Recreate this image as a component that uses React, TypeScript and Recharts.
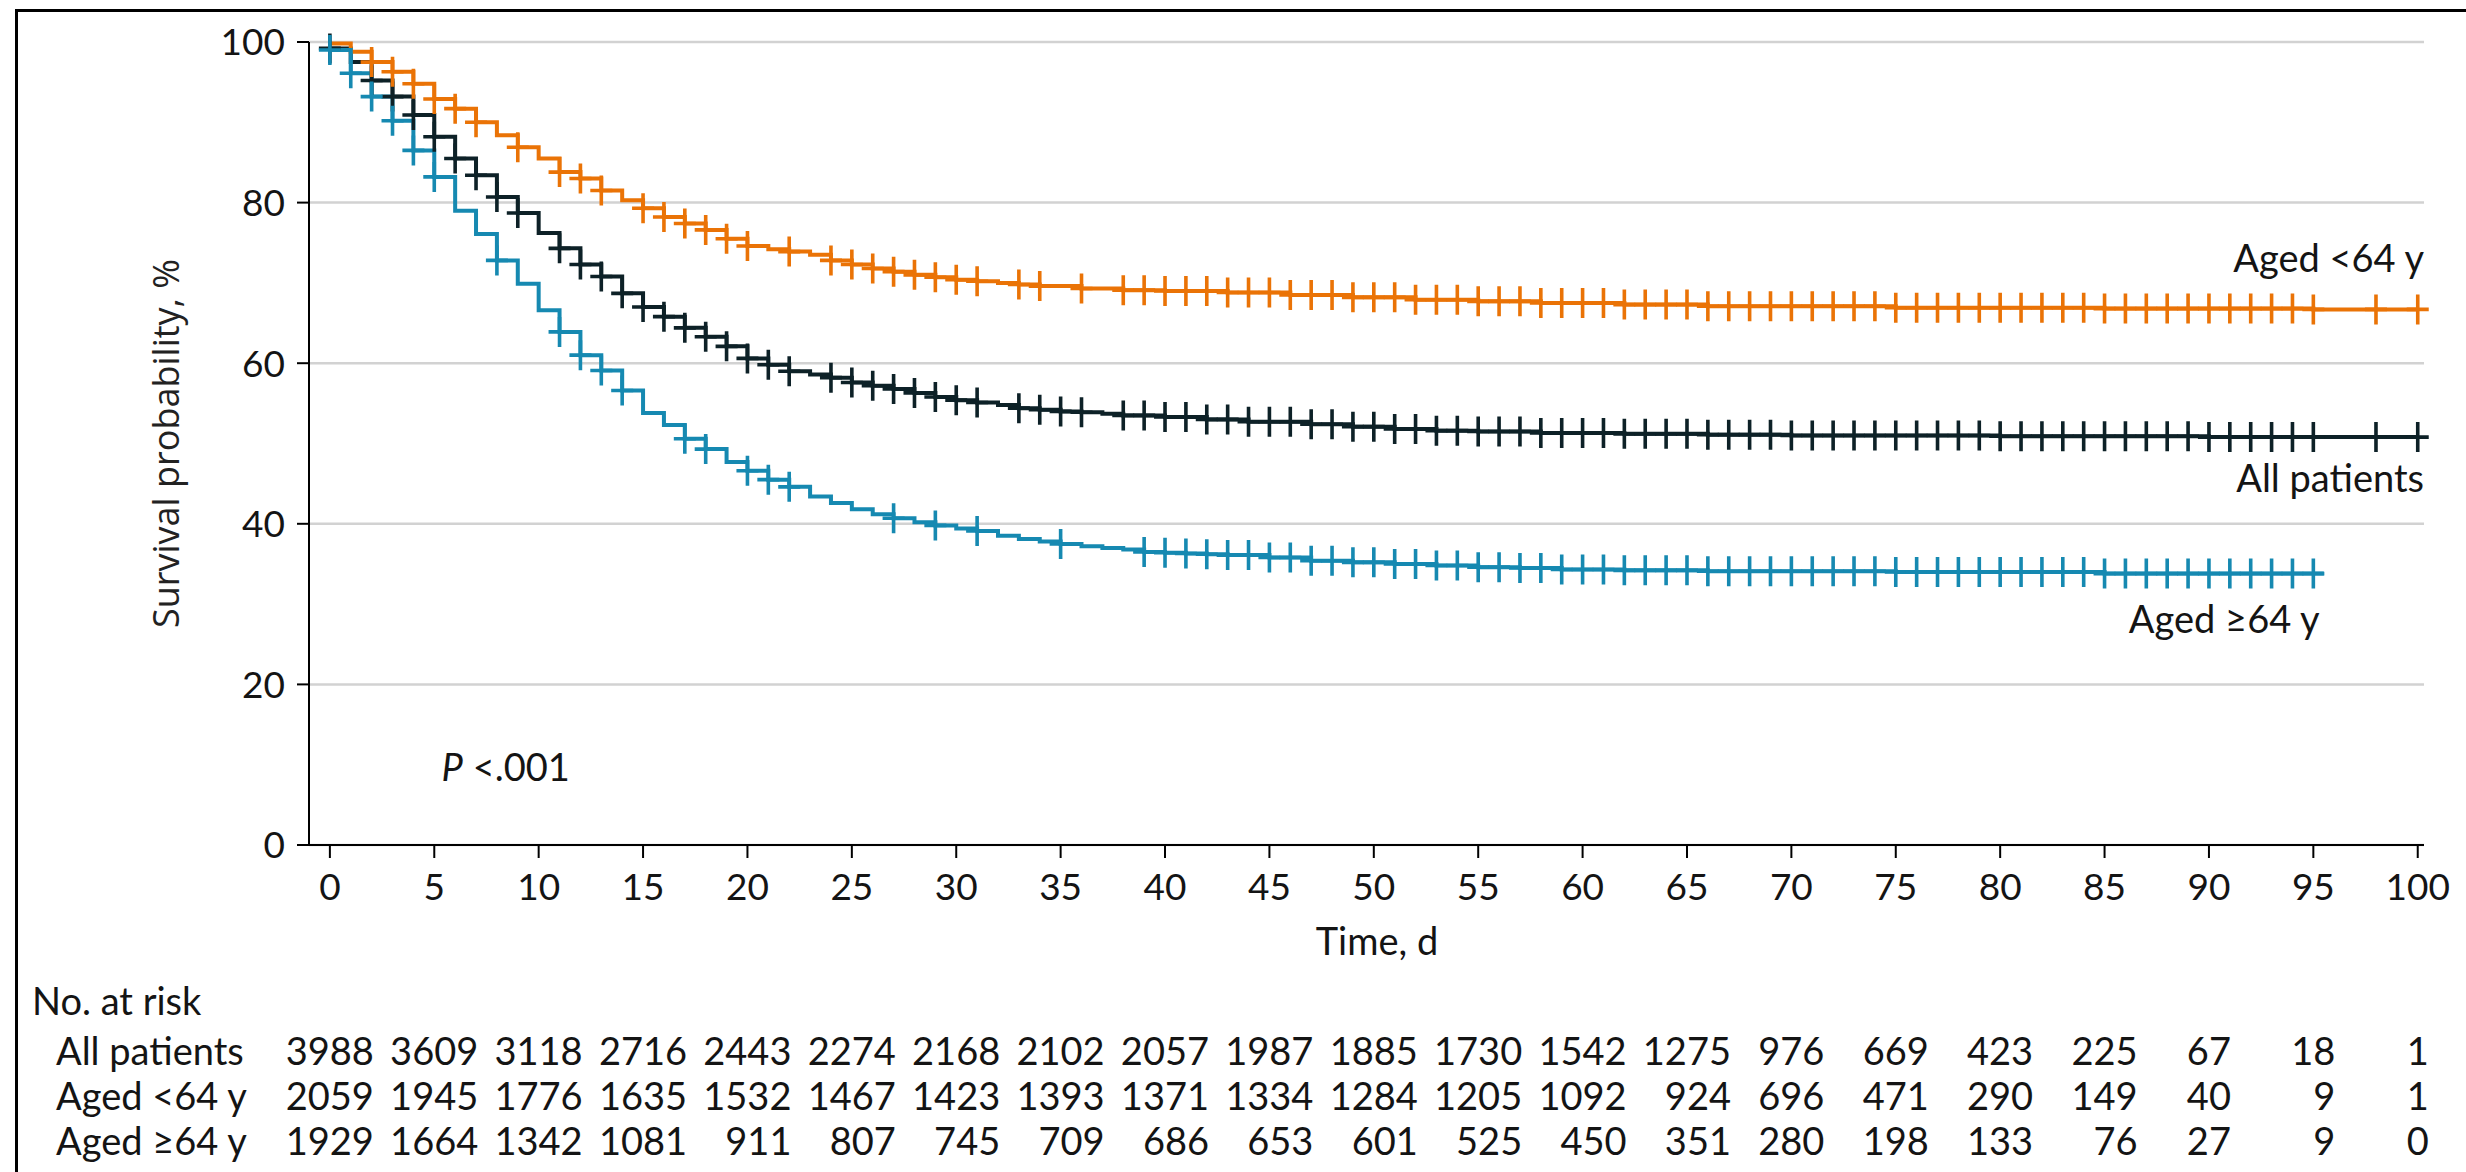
import React from "react";
import {
  ComposedChart,
  Line,
  Scatter,
  XAxis,
  YAxis,
  CartesianGrid,
} from "recharts";

const FONT = "Lato, 'Liberation Sans', sans-serif";
const INK = "#141414";
const TICK_LEN = 13;
const DIGIT_W = 22;

const xTicks = [0, 5, 10, 15, 20, 25, 30, 35, 40, 45, 50, 55, 60, 65, 70, 75, 80, 85, 90, 95, 100];
const yTicks = [0, 20, 40, 60, 80, 100];

// Kaplan-Meier steps (day, survival %)
const allDays = [
  0, 1, 2, 3, 4, 5, 6, 7, 8, 9, 10, 11, 12, 13, 14, 15, 16, 17, 18, 19, 20, 21, 22, 23, 24, 25,
  26, 27, 28, 29, 30, 31, 32, 33, 34, 35, 36, 37, 38, 40, 42, 44, 47, 49, 51, 53, 55, 58, 62, 66,
  70, 80, 90, 100,
];
const allSurv = [
  99.2, 97.5, 95.2, 93.2, 90.9, 88.2, 85.5, 83.4, 80.7, 78.7, 76.2, 74.3, 72.3, 70.8, 68.7, 67.0,
  65.8, 64.4, 63.3, 62.1, 60.6, 59.8, 59.0, 58.6, 58.2, 57.6, 57.2, 56.8, 56.3, 55.8, 55.4, 55.1,
  54.8, 54.4, 54.2, 54.0, 53.9, 53.7, 53.5, 53.3, 53.0, 52.7, 52.4, 52.1, 51.8, 51.6, 51.5, 51.3,
  51.2, 51.1, 51.0, 50.9, 50.8, 50.8,
];

const youngDays = [
  0, 1, 2, 3, 4, 5, 6, 7, 8, 9, 10, 11, 12, 13, 14, 15, 16, 17, 18, 19, 20, 21, 22, 23, 24, 25,
  26, 27, 28, 29, 30, 31, 32, 33, 34, 36, 38, 40, 43, 46, 49, 52, 55, 58, 62, 66, 75, 85, 95, 100,
];
const youngSurv = [
  99.8, 98.8, 97.5, 96.3, 94.8, 92.9, 91.7, 90.0, 88.4, 86.9, 85.5, 83.8, 83.0, 81.5, 80.3, 79.3,
  78.2, 77.4, 76.6, 75.5, 74.6, 74.2, 73.9, 73.5, 72.8, 72.3, 71.8, 71.4, 71.0, 70.7, 70.4, 70.2,
  70.0, 69.8, 69.6, 69.3, 69.1, 69.0, 68.8, 68.5, 68.2, 67.9, 67.7, 67.5, 67.3, 67.1, 66.9, 66.8,
  66.7, 66.7,
];

const oldDays = [
  0, 1, 2, 3, 4, 5, 6, 7, 8, 9, 10, 11, 12, 13, 14, 15, 16, 17, 18, 19, 20, 21, 22, 23, 24, 25,
  26, 27, 28, 29, 30, 31, 32, 33, 34, 35, 36, 37, 38, 39, 40, 41, 42, 43, 45, 47, 49, 51, 53, 55,
  57, 59, 62, 66, 75, 85, 95, 95.5,
];
const oldSurv = [
  99.0, 96.1, 93.2, 90.2, 86.5, 83.2, 79.0, 76.1, 72.8, 69.9, 66.6, 63.9, 61.0, 59.1, 56.6, 53.8,
  52.3, 50.6, 49.3, 47.7, 46.6, 45.5, 44.6, 43.4, 42.6, 41.8, 41.2, 40.7, 40.2, 39.8, 39.4, 39.1,
  38.5, 38.1, 37.8, 37.5, 37.2, 37.0, 36.8, 36.5, 36.4, 36.3, 36.2, 36.1, 35.8, 35.4, 35.2, 35.0,
  34.8, 34.6, 34.5, 34.3, 34.2, 34.1, 34.0, 33.8, 33.8, 33.8,
];

// censoring marks (days)
const allCensored = [
  0, 2, 3, 4, 5, 6, 7, 8, 9, 11, 12, 13, 14, 15, 16, 17, 18, 19, 20, 21, 22, 24, 25, 26, 27, 28,
  29, 30, 31, 33, 34, 35, 36, 38, 39, 40, 41, 42, 43, 44, 45, 46, 47, 48, 49, 50, 51, 52, 53, 54,
  55, 56, 57, 58, 59, 60, 61, 62, 63, 64, 65, 66, 67, 68, 69, 70, 71, 72, 73, 74, 75, 76, 77, 78,
  79, 80, 81, 82, 83, 84, 85, 86, 87, 88, 89, 90, 91, 92, 93, 94, 95, 98, 100,
];
const youngCensored = [
  2, 3, 4, 5, 6, 7, 9, 11, 12, 13, 15, 16, 17, 18, 19, 20, 22, 24, 25, 26, 27, 28, 29, 30, 31, 33,
  34, 36, 38, 39, 40, 41, 42, 43, 44, 45, 46, 47, 48, 49, 50, 51, 52, 53, 54, 55, 56, 57, 58, 59,
  60, 61, 62, 63, 64, 65, 66, 67, 68, 69, 70, 71, 72, 73, 74, 75, 76, 77, 78, 79, 80, 81, 82, 83,
  84, 85, 86, 87, 88, 89, 90, 91, 92, 93, 94, 95, 98, 100,
];
const oldCensored = [
  0, 1, 2, 3, 4, 5, 8, 11, 12, 13, 14, 17, 18, 20, 21, 22, 27, 29, 31, 35, 39, 40, 41, 42, 43, 44,
  45, 46, 47, 48, 49, 50, 51, 52, 53, 54, 55, 56, 57, 58, 59, 60, 61, 62, 63, 64, 65, 66, 67, 68,
  69, 70, 71, 72, 73, 74, 75, 76, 77, 78, 79, 80, 81, 82, 83, 84, 85, 86, 87, 88, 89, 90, 91, 92,
  93, 94, 95,
];

// number at risk, one value per x tick
const riskLabels = ["All patients", "Aged <64 y", "Aged \u226564 y"];
const riskAll = [3988, 3609, 3118, 2716, 2443, 2274, 2168, 2102, 2057, 1987, 1885, 1730, 1542, 1275, 976, 669, 423, 225, 67, 18, 1];
const riskYoung = [2059, 1945, 1776, 1635, 1532, 1467, 1423, 1393, 1371, 1334, 1284, 1205, 1092, 924, 696, 471, 290, 149, 40, 9, 1];
const riskOld = [1929, 1664, 1342, 1081, 911, 807, 745, 709, 686, 653, 601, 525, 450, 351, 280, 198, 133, 76, 27, 9, 0];
const riskTable = [riskAll, riskYoung, riskOld];

// in-plot text labels (day, survival %, anchor)
const noteText = ["Aged <64 y", "All patients", "Aged \u226564 y", "P"];
const noteDay = [100.3, 100.3, 95.3, 5.35];
const noteSurv = [71.3, 43.9, 26.4, 8.0];
const noteAnchor = ["end", "end", "end", "start"];

const colors = { all: "#0d2127", young: "#ea7306", old: "#1689b1" };

const toPoints = (days: number[], surv: number[]) =>
  days.map((t, i) => ({ t, s: surv[i] }));

const censorPoints = (days: number[], surv: number[], marks: number[]) =>
  marks.map((t) => {
    let s = surv[0];
    for (let i = 0; i < days.length; i++) if (days[i] <= t) s = surv[i];
    return { t, s };
  });

const notes = noteText.map((text, i) => ({
  t: noteDay[i],
  s: noteSurv[i],
  text,
  anchor: noteAnchor[i],
}));

const plus = (color: string) => (props: any) => {
  const { cx, cy } = props;
  if (cx == null || cy == null) return <g />;
  return (
    <path
      d={`M${cx - 11},${cy}H${cx + 11}M${cx},${cy - 15}V${cy + 15}`}
      stroke={color}
      strokeWidth={3.6}
      fill="none"
    />
  );
};

const NoteShape = (props: any) => {
  const { cx, cy, payload } = props;
  if (payload.text === "P") {
    return (
      <text x={cx} y={cy} fontFamily={FONT} fontSize={38} fill={INK}>
        <tspan fontStyle="italic">P</tspan>
        <tspan> &lt;.001</tspan>
      </text>
    );
  }
  return (
    <text x={cx} y={cy} textAnchor={payload.anchor} fontFamily={FONT} fontSize={38} fill={INK}>
      {payload.text}
    </text>
  );
};

function SurvTick(props: any) {
  const { x, y, payload } = props;
  return (
    <text x={x} y={y} dy="0.36em" textAnchor="end" fontFamily={FONT} fontSize={37} fill={INK}>
      {payload.value}
    </text>
  );
}

function TimeTick(props: any) {
  const { x, y, payload } = props;
  const i = xTicks.indexOf(payload.value);
  const axisY = y - TICK_LEN;
  const digits = Math.max(...riskTable.map((row) => String(row[i]).length));
  const right = x + (digits * DIGIT_W) / 2;
  return (
    <g fontFamily={FONT} fill={INK}>
      <text x={x} y={axisY + 55} textAnchor="middle" fontSize={37}>
        {payload.value}
      </text>
      {riskTable.map((row, r) => (
        <text key={r} x={right} y={axisY + 220 + r * 45} textAnchor="end" fontSize={38}>
          {row[i]}
        </text>
      ))}
      {i === 0 && (
        <>
          <text x={32} y={axisY + 170} fontSize={38}>
            No. at risk
          </text>
          {riskLabels.map((label, r) => (
            <text key={label} x={56} y={axisY + 220 + r * 45} fontSize={38}>
              {label}
            </text>
          ))}
        </>
      )}
    </g>
  );
}

export default function App() {
  return (
    <div
      style={{
        position: "absolute",
        left: 0,
        top: 0,
        width: 2466,
        height: 1172,
        background: "#fff",
        overflow: "hidden",
      }}
    >
      <div
        style={{
          position: "absolute",
          left: 15,
          top: 9,
          width: 2451,
          height: 1163,
          borderLeft: "3px solid #000",
          borderTop: "3px solid #000",
          boxSizing: "border-box",
        }}
      />
      <ComposedChart
        width={2466}
        height={1172}
        margin={{ top: 42, right: 42, bottom: 0, left: 0 }}
      >
        <CartesianGrid horizontal vertical={false} stroke="#d2d2d2" strokeWidth={2.5} />
        <XAxis
          dataKey="t"
          type="number"
          domain={[-1, 100]}
          ticks={xTicks}
          interval={0}
          height={327}
          tickSize={TICK_LEN}
          tickMargin={0}
          tick={<TimeTick />}
          axisLine={{ stroke: "#000", strokeWidth: 2 }}
          tickLine={{ stroke: "#000", strokeWidth: 2 }}
          label={{
            content: (p: any) => {
              const vb = p.viewBox;
              return (
                <text
                  x={vb.x + (vb.width * 51) / 101}
                  y={vb.y + 110}
                  textAnchor="middle"
                  fontFamily={FONT}
                  fontSize={38}
                  fill={INK}
                >
                  Time, d
                </text>
              );
            },
          }}
        />
        <YAxis
          dataKey="s"
          type="number"
          domain={[0, 100]}
          ticks={yTicks}
          width={309}
          tickSize={12}
          tickMargin={12}
          tick={<SurvTick />}
          axisLine={{ stroke: "#000", strokeWidth: 2 }}
          tickLine={{ stroke: "#000", strokeWidth: 2 }}
          label={{
            content: (p: any) => {
              const vb = p.viewBox;
              const cx = vb.x + 165;
              const cy = vb.y + vb.height / 2;
              return (
                <text
                  x={cx}
                  y={cy}
                  transform={`rotate(-90, ${cx}, ${cy})`}
                  textAnchor="middle"
                  dominantBaseline="central"
                  fontFamily="'Open Sans', 'Noto Sans', sans-serif"
                  fontSize={36}
                  fill="#222"
                >
                  Survival probability, %
                </text>
              );
            },
          }}
        />
        <Line
          data={toPoints(allDays, allSurv)}
          dataKey="s"
          type="stepAfter"
          stroke={colors.all}
          strokeWidth={4}
          dot={false}
          isAnimationActive={false}
        />
        <Line
          data={toPoints(youngDays, youngSurv)}
          dataKey="s"
          type="stepAfter"
          stroke={colors.young}
          strokeWidth={4}
          dot={false}
          isAnimationActive={false}
        />
        <Line
          data={toPoints(oldDays, oldSurv)}
          dataKey="s"
          type="stepAfter"
          stroke={colors.old}
          strokeWidth={4}
          dot={false}
          isAnimationActive={false}
        />
        <Scatter
          data={censorPoints(allDays, allSurv, allCensored)}
          shape={plus(colors.all)}
          isAnimationActive={false}
        />
        <Scatter
          data={censorPoints(youngDays, youngSurv, youngCensored)}
          shape={plus(colors.young)}
          isAnimationActive={false}
        />
        <Scatter
          data={censorPoints(oldDays, oldSurv, oldCensored)}
          shape={plus(colors.old)}
          isAnimationActive={false}
        />
        <Scatter data={notes} shape={NoteShape} isAnimationActive={false} />
      </ComposedChart>
    </div>
  );
}
